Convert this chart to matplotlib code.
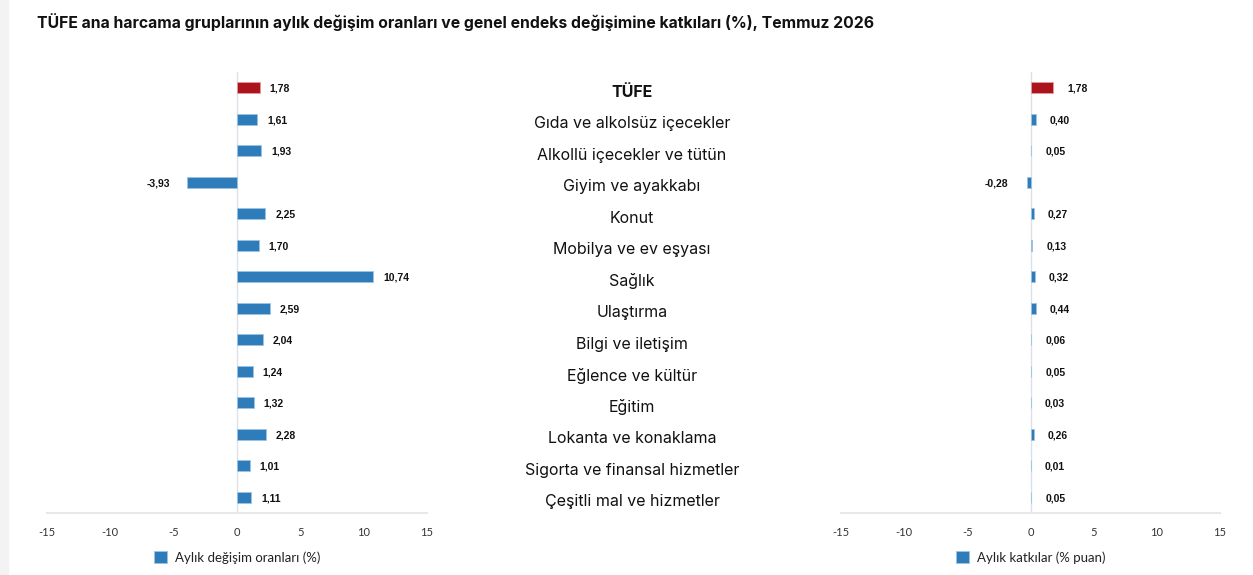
import matplotlib.pyplot as plt
from matplotlib import font_manager as fm
from matplotlib.patches import Rectangle
from matplotlib.transforms import blended_transform_factory

categories = [
    "TÜFE",
    "Gıda ve alkolsüz içecekler",
    "Alkollü içecekler ve tütün",
    "Giyim ve ayakkabı",
    "Konut",
    "Mobilya ve ev eşyası",
    "Sağlık",
    "Ulaştırma",
    "Bilgi ve iletişim",
    "Eğlence ve kültür",
    "Eğitim",
    "Lokanta ve konaklama",
    "Sigorta ve finansal hizmetler",
    "Çeşitli mal ve hizmetler",
]
monthly_change = [1.78, 1.61, 1.93, -3.93, 2.25, 1.70, 10.74, 2.59, 2.04, 1.24, 1.32, 2.28, 1.01, 1.11]
contribution = [1.78, 0.40, 0.05, -0.28, 0.27, 0.13, 0.32, 0.44, 0.06, 0.05, 0.03, 0.26, 0.01, 0.05]
xticks = [-15, -10, -5, 0, 5, 10, 15]
title = "TÜFE ana harcama gruplarının aylık değişim oranları ve genel endeks değişimine katkıları (%), Temmuz 2026"
legend_left = "Aylık değişim oranları (%)"
legend_right = "Aylık katkılar (% puan)"

BLUE = "#2e7dba"
RED = "#ab141d"
TICK_FONT = "Lato"
LABEL_FONT = "Inter"

# value labels: Arial-like bold, pick the regular-width Liberation Sans Bold file
value_prop = fm.FontProperties(family="Liberation Sans", weight="bold", size=7.5)
for path in fm.findSystemFonts():
    if path.endswith("LiberationSans-Bold.ttf"):
        value_prop = fm.FontProperties(fname=path, size=7.5)
        break

fig = plt.figure(figsize=(12.53, 5.75), dpi=100, facecolor="white")
fig.patches.append(Rectangle((0, 0), 8 / 1253, 1, transform=fig.transFigure,
                             color="#f3f3f3", zorder=0))

fig.text(37 / 1253, 1 - 22 / 575, title, fontsize=11.35, fontweight="bold",
         family=LABEL_FONT, color="#111111", va="center", ha="left")

bottom = 1 - 513 / 575
height = (513 - 72) / 575
ax_l = fig.add_axes([47 / 1253, bottom, 380 / 1253, height])
ax_r = fig.add_axes([841 / 1253, bottom, 379 / 1253, height])


def draw_panel(ax, values, legend_text, pos_off, neg_off):
    ypos = list(range(len(values)))
    colors = [RED] + [BLUE] * (len(values) - 1)
    edges = ["#e39aa0"] + ["#9cc3e2"] * (len(values) - 1)
    ax.barh(ypos, values, height=0.34, color=colors, edgecolor=edges,
            linewidth=0.6, zorder=3, label=legend_text)
    ax.set_xlim(-15, 15)
    ax.set_ylim(len(values) - 0.5, -0.5)
    ax.axvline(0, color="#dde1e7", lw=1, zorder=1)
    for s in ("top", "right", "left"):
        ax.spines[s].set_visible(False)
    ax.spines["bottom"].set_color("#e8e8e8")
    ax.spines["bottom"].set_linewidth(1.5)
    ax.set_yticks([])
    ax.set_xticks(xticks)
    ax.set_xticklabels([str(t) for t in xticks], family=TICK_FONT,
                       fontsize=8, color="#333333")
    ax.tick_params(axis="x", length=0, pad=10)
    for y, v in zip(ypos, values):
        txt = f"{v:.2f}".replace(".", ",")
        if v >= 0:
            ax.annotate(txt, (v, y + 0.03), xytext=(pos_off, 0), textcoords="offset pixels",
                        ha="left", va="center", fontproperties=value_prop, color="#111111")
        else:
            ax.annotate(txt, (v, y + 0.03), xytext=(-neg_off, 0), textcoords="offset pixels",
                        ha="right", va="center", fontproperties=value_prop, color="#111111")
    leg = ax.legend(loc="upper center", bbox_to_anchor=(0.5, -0.06), frameon=False,
                    handlelength=1.0, handleheight=1.0, handletextpad=0.6,
                    prop={"family": TICK_FONT, "size": 9.5})
    for h in leg.legend_handles:
        h.set_color(BLUE)
        h.set_edgecolor("#9cc3e2")
    for t in leg.get_texts():
        t.set_color("#222222")


draw_panel(ax_l, monthly_change, legend_left, 10, 17)
draw_panel(ax_r, contribution, legend_right, 14, 19)

trans = blended_transform_factory(fig.transFigure, ax_l.transData)
for i, name in enumerate(categories):
    ax_l.text(632 / 1253, i + 0.14, name, transform=trans, ha="center", va="center",
              fontsize=11.5, family=LABEL_FONT, color="#111111",
              fontweight="bold" if i == 0 else "normal", clip_on=False)

fig.savefig("out.png", dpi=100, facecolor="white")
